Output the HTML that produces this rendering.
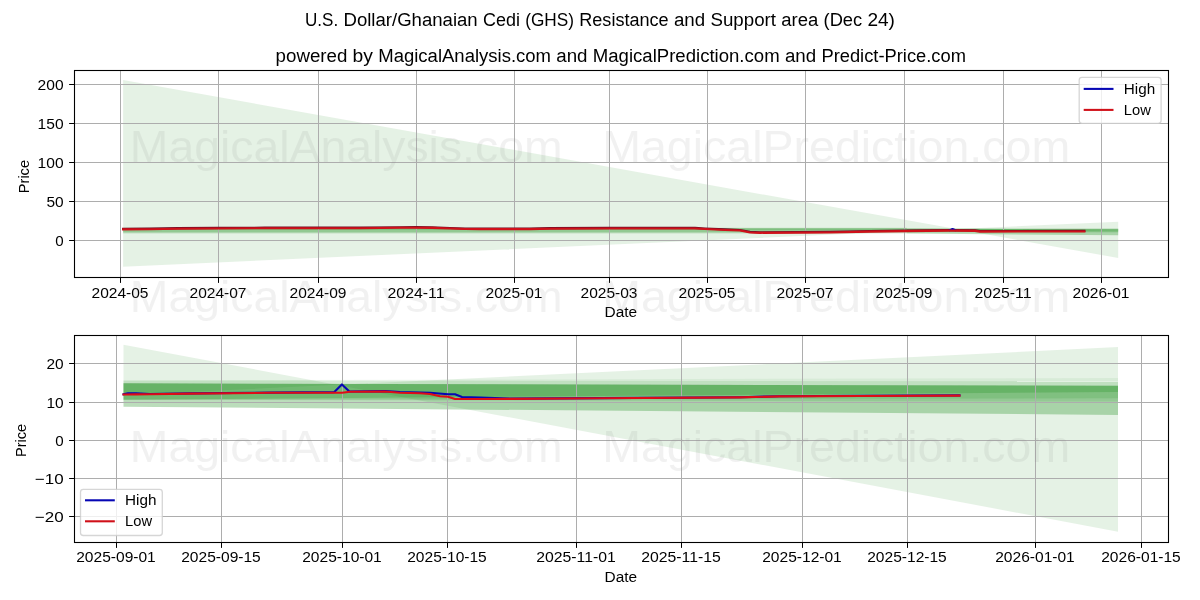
<!DOCTYPE html>
<html lang="en"><head><meta charset="utf-8">
<title>U.S. Dollar/Ghanaian Cedi (GHS) Resistance and Support area (Dec 24)</title>
<style>
html,body{margin:0;padding:0;background:#fff;}
body{width:1200px;height:600px;overflow:hidden;font-family:"Liberation Sans", sans-serif;}
svg{display:block;font-family:"Liberation Sans", sans-serif;}
svg text{font-family:"Liberation Sans", sans-serif;}
</style></head><body>
<svg width="1200" height="600" viewBox="0 0 1200 600">
<defs>
<clipPath id="c0"><rect x="74.5" y="70.5" width="1094" height="207"/></clipPath>
<clipPath id="c1"><rect x="74.5" y="335.5" width="1094" height="207"/></clipPath>
<filter id="gs" filterUnits="userSpaceOnUse" x="0" y="0" width="1200" height="600" color-interpolation-filters="sRGB"><feColorMatrix type="saturate" values="0"/></filter>
</defs>
<rect x="0" y="0" width="1200" height="600" fill="#ffffff"/>
<g clip-path="url(#c0)">
<polygon points="123.1,80 1118.2,258 1118.2,221.7 123.1,266.7" fill="#008000" fill-opacity="0.1"/>
<polygon points="123.1,227.7 906.8,227.7 906.8,228.2 123.1,228.2" fill="#008000" fill-opacity="0.15"/>
<polygon points="123.1,228.2 906.8,228.2 906.8,230.5 123.1,230.5" fill="#008000" fill-opacity="0.45"/>
<polygon points="123.1,230.5 906.8,230.5 906.8,232.4 123.1,232.4" fill="#008000" fill-opacity="0.36"/>
<polygon points="123.1,232.4 906.8,232.4 906.8,233.5 123.1,233.5" fill="#008000" fill-opacity="0.15"/>
<polygon points="906.8,228.2 1118.2,228.2 1118.2,229.3 906.8,228.8" fill="#008000" fill-opacity="0.16"/>
<polygon points="906.8,228.8 1118.2,229.3 1118.2,235.2 906.8,233.6" fill="#008000" fill-opacity="0.267"/>
<polygon points="906.8,228.8 1118.2,229.3 1118.2,232.5 906.8,232.2" fill="#008000" fill-opacity="0.12"/>
<polygon points="906.8,228.8 1118.2,229.3 1118.2,231.9 906.8,232.2" fill="#008000" fill-opacity="0.13"/>
<polygon points="906.8,228.8 1118.2,229.3 1118.2,230.6 906.8,232.2" fill="#008000" fill-opacity="0.2"/>
<line x1="120.5" y1="70.5" x2="120.5" y2="277.5" stroke="#adadad" stroke-width="1.0"/>
<line x1="218.5" y1="70.5" x2="218.5" y2="277.5" stroke="#adadad" stroke-width="1.0"/>
<line x1="318.5" y1="70.5" x2="318.5" y2="277.5" stroke="#adadad" stroke-width="1.0"/>
<line x1="416.5" y1="70.5" x2="416.5" y2="277.5" stroke="#adadad" stroke-width="1.0"/>
<line x1="514.5" y1="70.5" x2="514.5" y2="277.5" stroke="#adadad" stroke-width="1.0"/>
<line x1="609.5" y1="70.5" x2="609.5" y2="277.5" stroke="#adadad" stroke-width="1.0"/>
<line x1="707.5" y1="70.5" x2="707.5" y2="277.5" stroke="#adadad" stroke-width="1.0"/>
<line x1="805.5" y1="70.5" x2="805.5" y2="277.5" stroke="#adadad" stroke-width="1.0"/>
<line x1="904.5" y1="70.5" x2="904.5" y2="277.5" stroke="#adadad" stroke-width="1.0"/>
<line x1="1003.5" y1="70.5" x2="1003.5" y2="277.5" stroke="#adadad" stroke-width="1.0"/>
<line x1="1101.5" y1="70.5" x2="1101.5" y2="277.5" stroke="#adadad" stroke-width="1.0"/>
<line x1="74.5" y1="240.5" x2="1168.5" y2="240.5" stroke="#adadad" stroke-width="1.0"/>
<line x1="74.5" y1="201.5" x2="1168.5" y2="201.5" stroke="#adadad" stroke-width="1.0"/>
<line x1="74.5" y1="162.5" x2="1168.5" y2="162.5" stroke="#adadad" stroke-width="1.0"/>
<line x1="74.5" y1="123.5" x2="1168.5" y2="123.5" stroke="#adadad" stroke-width="1.0"/>
<line x1="74.5" y1="84.5" x2="1168.5" y2="84.5" stroke="#adadad" stroke-width="1.0"/>
<polyline points="123.1,228.75 150,228.65 178,228.15 218,227.9 265,227.65 360,227.65 400,227.2 416,227.15 432,227.25 450,227.95 465,228.45 480,228.55 530,228.55 550,228.15 609,227.85 695,227.85 705,228.45 725,229.35 740,229.95 750,231.85 760,232.25 830,231.85 870,231.05 905,230.55 950,230.05 975,230.25 980,231.05 1084.4,230.85" fill="none" stroke="#701028" stroke-width="2.08" stroke-linejoin="round" stroke-linecap="square"/>
<polyline points="949.9,230.1 952.5,229 955.1,230.1" fill="none" stroke="#0606b4" stroke-width="2.08" stroke-linejoin="round" stroke-linecap="square"/>
<polyline points="123.1,229.35 150,229.25 178,228.75 218,228.5 265,228.25 360,228.25 400,227.8 416,227.75 432,227.85 450,228.55 465,229.05 480,229.15 530,229.15 550,228.75 609,228.45 695,228.45 705,229.05 725,229.95 740,230.55 750,232.45 760,232.85 830,232.45 870,231.65 905,231.15 950,230.65 975,230.85 980,231.65 1084.4,231.45" fill="none" stroke="#d01019" stroke-width="2.08" stroke-linejoin="round" stroke-linecap="square"/>
</g>
<line x1="120.5" y1="277.5" x2="120.5" y2="282.9" stroke="#000" stroke-width="1"/>
<line x1="218.5" y1="277.5" x2="218.5" y2="282.9" stroke="#000" stroke-width="1"/>
<line x1="318.5" y1="277.5" x2="318.5" y2="282.9" stroke="#000" stroke-width="1"/>
<line x1="416.5" y1="277.5" x2="416.5" y2="282.9" stroke="#000" stroke-width="1"/>
<line x1="514.5" y1="277.5" x2="514.5" y2="282.9" stroke="#000" stroke-width="1"/>
<line x1="609.5" y1="277.5" x2="609.5" y2="282.9" stroke="#000" stroke-width="1"/>
<line x1="707.5" y1="277.5" x2="707.5" y2="282.9" stroke="#000" stroke-width="1"/>
<line x1="805.5" y1="277.5" x2="805.5" y2="282.9" stroke="#000" stroke-width="1"/>
<line x1="904.5" y1="277.5" x2="904.5" y2="282.9" stroke="#000" stroke-width="1"/>
<line x1="1003.5" y1="277.5" x2="1003.5" y2="282.9" stroke="#000" stroke-width="1"/>
<line x1="1101.5" y1="277.5" x2="1101.5" y2="282.9" stroke="#000" stroke-width="1"/>
<line x1="69.1" y1="240.5" x2="74.5" y2="240.5" stroke="#000" stroke-width="1"/>
<line x1="69.1" y1="201.5" x2="74.5" y2="201.5" stroke="#000" stroke-width="1"/>
<line x1="69.1" y1="162.5" x2="74.5" y2="162.5" stroke="#000" stroke-width="1"/>
<line x1="69.1" y1="123.5" x2="74.5" y2="123.5" stroke="#000" stroke-width="1"/>
<line x1="69.1" y1="84.5" x2="74.5" y2="84.5" stroke="#000" stroke-width="1"/>
<rect x="74.5" y="70.5" width="1094" height="207" fill="none" stroke="#000" stroke-width="1.1"/>
<g clip-path="url(#c1)">
<polygon points="123.5,344.7 1118,531.7 1118,347.1 123.5,395.1" fill="#008000" fill-opacity="0.1"/>
<polygon points="123.5,380.4 1118,378 1118,381.3 123.5,380.4" fill="#008000" fill-opacity="0.06"/>
<polygon points="123.5,380.4 1118,381.3 1118,385.8 123.5,383.3" fill="#008000" fill-opacity="0.16"/>
<polygon points="123.5,383.3 1118,385.8 1118,414.9 123.5,406.7" fill="#008000" fill-opacity="0.267"/>
<polygon points="123.5,383.3 1118,385.8 1118,401.6 123.5,399.8" fill="#008000" fill-opacity="0.12"/>
<polygon points="123.5,383.3 1118,385.8 1118,398.3 123.5,399.8" fill="#008000" fill-opacity="0.13"/>
<polygon points="123.5,383.3 1118,385.8 1118,392 123.5,399.8" fill="#008000" fill-opacity="0.2"/>
<line x1="116.5" y1="335.5" x2="116.5" y2="542.5" stroke="#adadad" stroke-width="1.0"/>
<line x1="221.5" y1="335.5" x2="221.5" y2="542.5" stroke="#adadad" stroke-width="1.0"/>
<line x1="342.5" y1="335.5" x2="342.5" y2="542.5" stroke="#adadad" stroke-width="1.0"/>
<line x1="447.5" y1="335.5" x2="447.5" y2="542.5" stroke="#adadad" stroke-width="1.0"/>
<line x1="576.5" y1="335.5" x2="576.5" y2="542.5" stroke="#adadad" stroke-width="1.0"/>
<line x1="681.5" y1="335.5" x2="681.5" y2="542.5" stroke="#adadad" stroke-width="1.0"/>
<line x1="802.5" y1="335.5" x2="802.5" y2="542.5" stroke="#adadad" stroke-width="1.0"/>
<line x1="907.5" y1="335.5" x2="907.5" y2="542.5" stroke="#adadad" stroke-width="1.0"/>
<line x1="1035.5" y1="335.5" x2="1035.5" y2="542.5" stroke="#adadad" stroke-width="1.0"/>
<line x1="1141.5" y1="335.5" x2="1141.5" y2="542.5" stroke="#adadad" stroke-width="1.0"/>
<line x1="74.5" y1="516.5" x2="1168.5" y2="516.5" stroke="#adadad" stroke-width="1.0"/>
<line x1="74.5" y1="478.5" x2="1168.5" y2="478.5" stroke="#adadad" stroke-width="1.0"/>
<line x1="74.5" y1="440.5" x2="1168.5" y2="440.5" stroke="#adadad" stroke-width="1.0"/>
<line x1="74.5" y1="402.5" x2="1168.5" y2="402.5" stroke="#adadad" stroke-width="1.0"/>
<line x1="74.5" y1="363.5" x2="1168.5" y2="363.5" stroke="#adadad" stroke-width="1.0"/>
<polyline points="123.5,394.3 128,393.3 136,393.3 150,394 190,393.4 270,392.6 334.3,392.1 341.9,384.4 349.4,391.5 385,391.1 400,392 420,392.6 430,392.8 448,394.2 455,394.2 462,397 480,397.6 510,398.6 600,398.1 740,397.2 780,396.2 860,395.8 959.5,395.4" fill="none" stroke="#0606b4" stroke-width="2.08" stroke-linejoin="round" stroke-linecap="square"/>
<polyline points="123.5,394.5 135,394.4 150,394.2 190,393.6 270,392.8 342,392.8 350,391.8 385,391.5 400,392.7 420,393.3 430,394 440,396.2 448,396.8 455,399 480,399 510,398.9 600,398.3 740,397.4 780,396.4 860,396 959.5,395.6" fill="none" stroke="#de0c16" stroke-width="2.08" stroke-linejoin="round" stroke-linecap="square"/>
</g>
<line x1="116.5" y1="542.5" x2="116.5" y2="547.9" stroke="#000" stroke-width="1"/>
<line x1="221.5" y1="542.5" x2="221.5" y2="547.9" stroke="#000" stroke-width="1"/>
<line x1="342.5" y1="542.5" x2="342.5" y2="547.9" stroke="#000" stroke-width="1"/>
<line x1="447.5" y1="542.5" x2="447.5" y2="547.9" stroke="#000" stroke-width="1"/>
<line x1="576.5" y1="542.5" x2="576.5" y2="547.9" stroke="#000" stroke-width="1"/>
<line x1="681.5" y1="542.5" x2="681.5" y2="547.9" stroke="#000" stroke-width="1"/>
<line x1="802.5" y1="542.5" x2="802.5" y2="547.9" stroke="#000" stroke-width="1"/>
<line x1="907.5" y1="542.5" x2="907.5" y2="547.9" stroke="#000" stroke-width="1"/>
<line x1="1035.5" y1="542.5" x2="1035.5" y2="547.9" stroke="#000" stroke-width="1"/>
<line x1="1141.5" y1="542.5" x2="1141.5" y2="547.9" stroke="#000" stroke-width="1"/>
<line x1="69.1" y1="516.5" x2="74.5" y2="516.5" stroke="#000" stroke-width="1"/>
<line x1="69.1" y1="478.5" x2="74.5" y2="478.5" stroke="#000" stroke-width="1"/>
<line x1="69.1" y1="440.5" x2="74.5" y2="440.5" stroke="#000" stroke-width="1"/>
<line x1="69.1" y1="402.5" x2="74.5" y2="402.5" stroke="#000" stroke-width="1"/>
<line x1="69.1" y1="363.5" x2="74.5" y2="363.5" stroke="#000" stroke-width="1"/>
<rect x="74.5" y="335.5" width="1094" height="207" fill="none" stroke="#000" stroke-width="1.1"/>
<rect x="1079.2" y="77.3" width="81.9" height="46" rx="2.8" ry="2.8" fill="#fff" fill-opacity="0.8" stroke="#cccccc" stroke-opacity="0.8" stroke-width="1.3"/>
<line x1="1083.7" y1="88.9" x2="1113.5" y2="88.9" stroke="#0606b4" stroke-width="2.08"/>
<line x1="1083.7" y1="109.9" x2="1113.5" y2="109.9" stroke="#d01019" stroke-width="2.08"/>
<rect x="80.5" y="489.4" width="81.8" height="46.1" rx="2.8" ry="2.8" fill="#fff" fill-opacity="0.8" stroke="#cccccc" stroke-opacity="0.8" stroke-width="1.3"/>
<line x1="85" y1="500.3" x2="114.8" y2="500.3" stroke="#0606b4" stroke-width="2.08"/>
<line x1="85" y1="521.3" x2="114.8" y2="521.3" stroke="#d01019" stroke-width="2.08"/>
<g filter="url(#gs)">
<text x="305" y="26.3" font-size="17.6" text-anchor="start" fill="#000" textLength="33.22" lengthAdjust="spacingAndGlyphs">U.S.</text>
<text x="343.49" y="26.3" font-size="17.6" text-anchor="start" fill="#000" textLength="134.23" lengthAdjust="spacingAndGlyphs">Dollar/Ghanaian</text>
<text x="483" y="26.3" font-size="17.6" text-anchor="start" fill="#000" textLength="36.93" lengthAdjust="spacingAndGlyphs">Cedi</text>
<text x="525.2" y="26.3" font-size="17.6" text-anchor="start" fill="#000" textLength="48.81" lengthAdjust="spacingAndGlyphs">(GHS)</text>
<text x="579.28" y="26.3" font-size="17.6" text-anchor="start" fill="#000" textLength="89.4" lengthAdjust="spacingAndGlyphs">Resistance</text>
<text x="673.96" y="26.3" font-size="17.6" text-anchor="start" fill="#000" textLength="31.21" lengthAdjust="spacingAndGlyphs">and</text>
<text x="710.44" y="26.3" font-size="17.6" text-anchor="start" fill="#000" textLength="65.58" lengthAdjust="spacingAndGlyphs">Support</text>
<text x="781.3" y="26.3" font-size="17.6" text-anchor="start" fill="#000" textLength="37" lengthAdjust="spacingAndGlyphs">area</text>
<text x="823.57" y="26.3" font-size="17.6" text-anchor="start" fill="#000" textLength="38.58" lengthAdjust="spacingAndGlyphs">(Dec</text>
<text x="867.42" y="26.3" font-size="17.6" text-anchor="start" fill="#000" textLength="27.58" lengthAdjust="spacingAndGlyphs">24)</text>
<text x="275.6" y="62.3" font-size="17.6" text-anchor="start" fill="#000" textLength="71.72" lengthAdjust="spacingAndGlyphs">powered</text>
<text x="352.6" y="62.3" font-size="17.6" text-anchor="start" fill="#000" textLength="20.37" lengthAdjust="spacingAndGlyphs">by</text>
<text x="378.25" y="62.3" font-size="17.6" text-anchor="start" fill="#000" textLength="172.76" lengthAdjust="spacingAndGlyphs">MagicalAnalysis.com</text>
<text x="556.29" y="62.3" font-size="17.6" text-anchor="start" fill="#000" textLength="31.24" lengthAdjust="spacingAndGlyphs">and</text>
<text x="592.81" y="62.3" font-size="17.6" text-anchor="start" fill="#000" textLength="186.83" lengthAdjust="spacingAndGlyphs">MagicalPrediction.com</text>
<text x="784.92" y="62.3" font-size="17.6" text-anchor="start" fill="#000" textLength="31.24" lengthAdjust="spacingAndGlyphs">and</text>
<text x="821.44" y="62.3" font-size="17.6" text-anchor="start" fill="#000" textLength="144.46" lengthAdjust="spacingAndGlyphs">Predict-Price.com</text>
<text x="120" y="297.8" font-size="14.7" text-anchor="middle" fill="#000" textLength="57" lengthAdjust="spacingAndGlyphs">2024-05</text>
<text x="218" y="297.8" font-size="14.7" text-anchor="middle" fill="#000" textLength="57" lengthAdjust="spacingAndGlyphs">2024-07</text>
<text x="318" y="297.8" font-size="14.7" text-anchor="middle" fill="#000" textLength="57" lengthAdjust="spacingAndGlyphs">2024-09</text>
<text x="416" y="297.8" font-size="14.7" text-anchor="middle" fill="#000" textLength="57" lengthAdjust="spacingAndGlyphs">2024-11</text>
<text x="514" y="297.8" font-size="14.7" text-anchor="middle" fill="#000" textLength="57" lengthAdjust="spacingAndGlyphs">2025-01</text>
<text x="609" y="297.8" font-size="14.7" text-anchor="middle" fill="#000" textLength="57" lengthAdjust="spacingAndGlyphs">2025-03</text>
<text x="707" y="297.8" font-size="14.7" text-anchor="middle" fill="#000" textLength="57" lengthAdjust="spacingAndGlyphs">2025-05</text>
<text x="805" y="297.8" font-size="14.7" text-anchor="middle" fill="#000" textLength="57" lengthAdjust="spacingAndGlyphs">2025-07</text>
<text x="904" y="297.8" font-size="14.7" text-anchor="middle" fill="#000" textLength="57" lengthAdjust="spacingAndGlyphs">2025-09</text>
<text x="1003" y="297.8" font-size="14.7" text-anchor="middle" fill="#000" textLength="57" lengthAdjust="spacingAndGlyphs">2025-11</text>
<text x="1101" y="297.8" font-size="14.7" text-anchor="middle" fill="#000" textLength="57" lengthAdjust="spacingAndGlyphs">2026-01</text>
<text x="63.6" y="245.6" font-size="14.7" text-anchor="end" fill="#000" textLength="8.4" lengthAdjust="spacingAndGlyphs">0</text>
<text x="63.6" y="206.6" font-size="14.7" text-anchor="end" fill="#000" textLength="17.2" lengthAdjust="spacingAndGlyphs">50</text>
<text x="63.6" y="167.6" font-size="14.7" text-anchor="end" fill="#000" textLength="26" lengthAdjust="spacingAndGlyphs">100</text>
<text x="63.6" y="128.6" font-size="14.7" text-anchor="end" fill="#000" textLength="26" lengthAdjust="spacingAndGlyphs">150</text>
<text x="63.6" y="89.6" font-size="14.7" text-anchor="end" fill="#000" textLength="26" lengthAdjust="spacingAndGlyphs">200</text>
<text x="116" y="561.9" font-size="14.7" text-anchor="middle" fill="#000" textLength="79.6" lengthAdjust="spacingAndGlyphs">2025-09-01</text>
<text x="221" y="561.9" font-size="14.7" text-anchor="middle" fill="#000" textLength="79.6" lengthAdjust="spacingAndGlyphs">2025-09-15</text>
<text x="342" y="561.9" font-size="14.7" text-anchor="middle" fill="#000" textLength="79.6" lengthAdjust="spacingAndGlyphs">2025-10-01</text>
<text x="447" y="561.9" font-size="14.7" text-anchor="middle" fill="#000" textLength="79.6" lengthAdjust="spacingAndGlyphs">2025-10-15</text>
<text x="576" y="561.9" font-size="14.7" text-anchor="middle" fill="#000" textLength="79.6" lengthAdjust="spacingAndGlyphs">2025-11-01</text>
<text x="681" y="561.9" font-size="14.7" text-anchor="middle" fill="#000" textLength="79.6" lengthAdjust="spacingAndGlyphs">2025-11-15</text>
<text x="802" y="561.9" font-size="14.7" text-anchor="middle" fill="#000" textLength="79.6" lengthAdjust="spacingAndGlyphs">2025-12-01</text>
<text x="907" y="561.9" font-size="14.7" text-anchor="middle" fill="#000" textLength="79.6" lengthAdjust="spacingAndGlyphs">2025-12-15</text>
<text x="1035" y="561.9" font-size="14.7" text-anchor="middle" fill="#000" textLength="79.6" lengthAdjust="spacingAndGlyphs">2026-01-01</text>
<text x="1141" y="561.9" font-size="14.7" text-anchor="middle" fill="#000" textLength="79.6" lengthAdjust="spacingAndGlyphs">2026-01-15</text>
<text x="63.6" y="521.6" font-size="14.7" text-anchor="end" fill="#000" textLength="28.8" lengthAdjust="spacingAndGlyphs">−20</text>
<text x="63.6" y="483.6" font-size="14.7" text-anchor="end" fill="#000" textLength="28.8" lengthAdjust="spacingAndGlyphs">−10</text>
<text x="63.6" y="445.6" font-size="14.7" text-anchor="end" fill="#000" textLength="8.4" lengthAdjust="spacingAndGlyphs">0</text>
<text x="63.6" y="407.6" font-size="14.7" text-anchor="end" fill="#000" textLength="17.2" lengthAdjust="spacingAndGlyphs">10</text>
<text x="63.6" y="368.6" font-size="14.7" text-anchor="end" fill="#000" textLength="17.2" lengthAdjust="spacingAndGlyphs">20</text>
<text x="620.8" y="317" font-size="14.7" text-anchor="middle" fill="#000" textLength="32.6" lengthAdjust="spacingAndGlyphs">Date</text>
<text x="620.8" y="581.8" font-size="14.7" text-anchor="middle" fill="#000" textLength="32.6" lengthAdjust="spacingAndGlyphs">Date</text>
<text transform="translate(28.8,176.6) rotate(-90)" font-size="14.7" text-anchor="middle" textLength="33.2" lengthAdjust="spacingAndGlyphs">Price</text>
<text transform="translate(25.9,440.4) rotate(-90)" font-size="14.7" text-anchor="middle" textLength="33.2" lengthAdjust="spacingAndGlyphs">Price</text>
<text x="1123.8" y="93.8" font-size="14.7" text-anchor="start" fill="#000" textLength="31.4" lengthAdjust="spacingAndGlyphs">High</text>
<text x="1123.8" y="114.7" font-size="14.7" text-anchor="start" fill="#000" textLength="27" lengthAdjust="spacingAndGlyphs">Low</text>
<text x="125.1" y="505.2" font-size="14.7" text-anchor="start" fill="#000" textLength="31.4" lengthAdjust="spacingAndGlyphs">High</text>
<text x="125.1" y="526.1" font-size="14.7" text-anchor="start" fill="#000" textLength="27" lengthAdjust="spacingAndGlyphs">Low</text>
</g>
<g opacity="0.105">
<text x="129.8" y="162" font-size="44" fill="#808080" textLength="432.73" lengthAdjust="spacingAndGlyphs">MagicalAnalysis.com</text>
<text x="602.2" y="162" font-size="44" fill="#808080" textLength="468" lengthAdjust="spacingAndGlyphs">MagicalPrediction.com</text>
<text x="129.8" y="312" font-size="44" fill="#808080" textLength="432.73" lengthAdjust="spacingAndGlyphs">MagicalAnalysis.com</text>
<text x="602.2" y="312" font-size="44" fill="#808080" textLength="468" lengthAdjust="spacingAndGlyphs">MagicalPrediction.com</text>
<text x="129.8" y="462" font-size="44" fill="#808080" textLength="432.73" lengthAdjust="spacingAndGlyphs">MagicalAnalysis.com</text>
<text x="602.2" y="462" font-size="44" fill="#808080" textLength="468" lengthAdjust="spacingAndGlyphs">MagicalPrediction.com</text>
</g>
</svg>
</body></html>
